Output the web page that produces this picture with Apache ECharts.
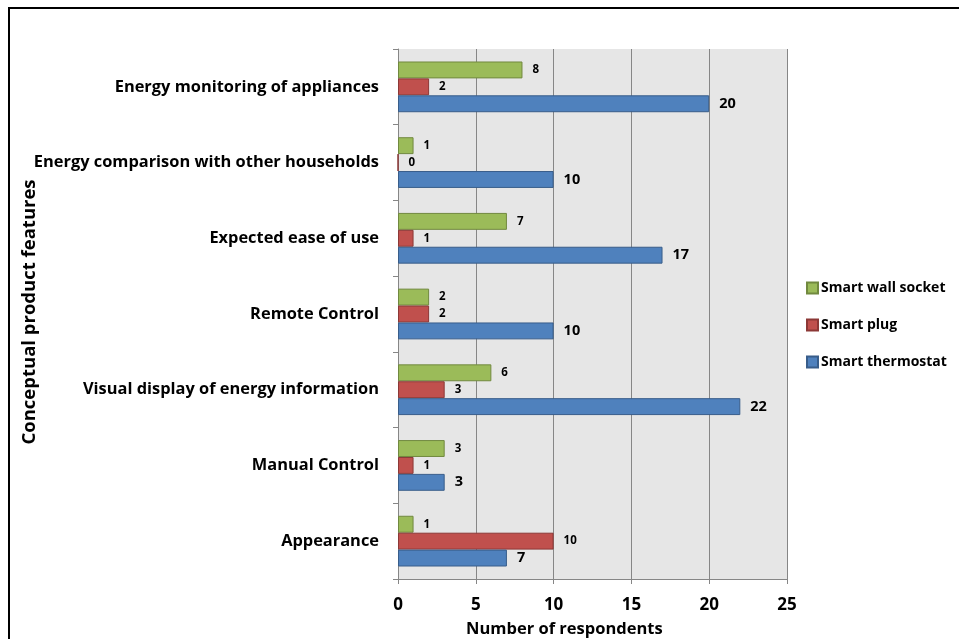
<!DOCTYPE html>
<html>
<head>
<meta charset="utf-8">
<script src="https://cdn.jsdelivr.net/npm/echarts@6/dist/echarts.min.js"></script>
<style>
  html, body { margin: 0; padding: 0; background: #fff; }
  #main { width: 959px; height: 639px; }
</style>
</head>
<body>
<div id="main"></div>
<script>
// categories, bottom to top
var features = [
  "Appearance",
  "Manual Control",
  "Visual display of energy information",
  "Remote Control",
  "Expected ease of use",
  "Energy comparison with other households",
  "Energy monitoring of appliances"
];
var wallSocket = [1, 3, 6, 2, 7, 1, 8];
var smartPlug = [10, 1, 3, 2, 1, 0, 2];
var thermostat = [7, 3, 22, 10, 17, 10, 20];
var xTicks = [0, 5, 10, 15, 20, 25];

var font = "'Open Sans', sans-serif";
var chart = echarts.init(document.getElementById("main"));

function barSeries(name, data, color, border, labelSize) {
  return {
    name: name,
    type: "bar",
    data: data,
    barGap: "0%",
    barCategoryGap: "33%",
    itemStyle: { color: color, borderColor: border, borderWidth: 1 },
    label: {
      show: true,
      position: "right",
      distance: 10,
      color: "#000",
      fontWeight: "bold",
      fontSize: labelSize,
      fontFamily: font
    }
  };
}

var option = {
  animation: false,
  backgroundColor: "#fff",
  textStyle: { fontFamily: font },
  graphic: [{
    type: "rect",
    shape: { x: 9, y: 8, width: 980, height: 660 },
    style: { fill: "none", stroke: "#000", lineWidth: 2 },
    silent: true
  }, {
    type: "text",
    left: 466,
    top: 621,
    style: { text: "Number of respondents", fontSize: 16.5, fontWeight: "bold", fill: "#000", fontFamily: font },
    silent: true
  }, {
    // y axis title, rotated
    type: "text",
    x: 30,
    y: 312,
    rotation: Math.PI / 2,
    style: {
      text: "Conceptual product features", fontSize: 18.5, fontWeight: "bold", fill: "#000",
      fontFamily: font, align: "center", verticalAlign: "middle"
    },
    silent: true
  }],
  grid: { left: 398, top: 49, width: 389, height: 530, backgroundColor: "#e6e6e6", show: true, borderWidth: 0 },
  legend: {
    orient: "vertical",
    left: 806,
    top: 281,
    padding: 0,
    itemGap: 23,
    itemWidth: 11,
    itemHeight: 11,
    icon: "rect",
    data: ["Smart wall socket", "Smart plug", "Smart thermostat"],
    textStyle: { fontSize: 14, fontWeight: "bold", color: "#000", fontFamily: font, padding: [0, 0, 0, -2] }
  },
  xAxis: {
    type: "value",
    min: 0,
    max: 25,
    interval: 5,
    axisLine: { show: true, lineStyle: { color: "#868686" } },
    axisTick: { show: true, length: 5, lineStyle: { color: "#868686" } },
    axisLabel: {
      fontSize: 17, fontWeight: "bold", color: "#000", margin: 18,
      formatter: function (v) { return xTicks.indexOf(v) >= 0 ? String(v) : ""; }
    },
    splitLine: { show: true, lineStyle: { color: "#868686", width: 1 } }
  },
  yAxis: {
    type: "category",
    data: features,
    axisLine: { show: true, lineStyle: { color: "#868686" } },
    axisTick: { show: true, length: 5, lineStyle: { color: "#868686" } },
    axisLabel: { fontSize: 16.4, fontWeight: "bold", color: "#000", margin: 19, lineHeight: 26, verticalAlign: "middle", padding: [4, 0, 0, 0] }
  },
  series: [
    barSeries("Smart wall socket", wallSocket, "#9bbb59", "#71893f", 11.5),
    barSeries("Smart plug", smartPlug, "#c0504d", "#8c3836", 11.5),
    barSeries("Smart thermostat", thermostat, "#4f81bd", "#385d8a", 14.5)
  ]
};
chart.setOption(option);
</script>
</body>
</html>
